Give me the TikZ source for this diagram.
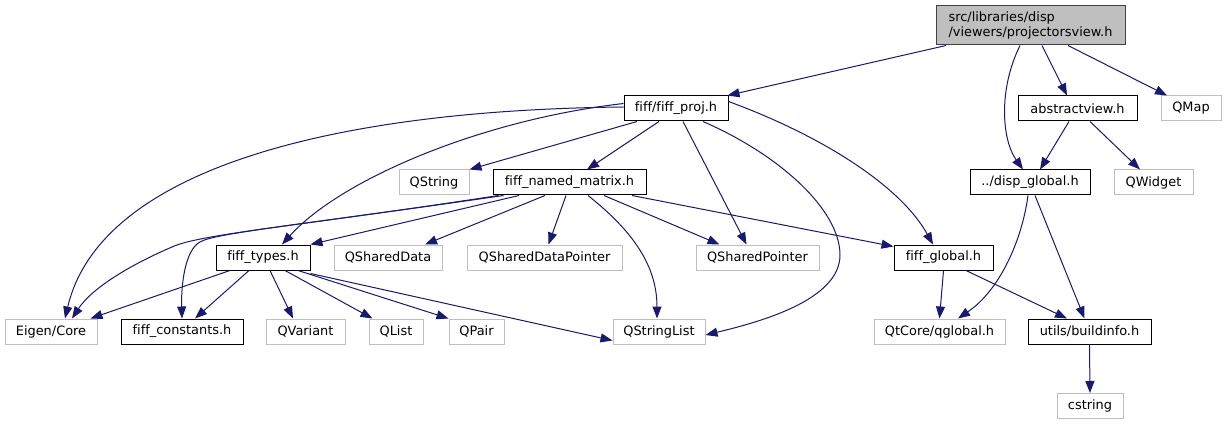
\documentclass[tikz,border=0pt]{standalone}
\usepackage{fontspec}
\setmainfont{DejaVu Sans}[Ligatures={NoCommon}]
\usetikzlibrary{arrows.meta}
\definecolor{edgec}{HTML}{191970}
\definecolor{grayb}{HTML}{BFBFBF}
\definecolor{mainb}{HTML}{404040}
\begin{document}
\begin{tikzpicture}[x=1pt,y=-1pt,
  base/.style={rectangle, inner sep=0pt, minimum height=25pt, font=\fontsize{12.9}{15}\selectfont, line width=1pt},
  doc/.style={base, draw=black, fill=white},
  ext/.style={base, draw=grayb, fill=white},
  edge/.style={draw=edgec, line width=1pt, -{Triangle[length=12pt,width=9pt]}, fill=none}
]
\useasboundingbox[fill=white] (0,0) rectangle (1227,425);

% nodes
\node[base, draw=mainb, fill=grayb, minimum width=189pt, minimum height=39pt, align=left] (main) at (1030.5,25.5) {src/libraries/disp\\/viewers/projectorsview.h};
\node[doc, minimum width=104pt] (fp) at (676,108.5) {fiff/fiff\_proj.h};
\node[doc, minimum width=119pt] (av) at (1077.5,108.5) {abstractview.h};
\node[ext, minimum width=60pt] (qmap) at (1191,108.5) {QMap};
\node[ext, minimum width=70pt] (qs) at (434,182.5) {QString};
\node[doc, minimum width=153pt] (nm) at (569.5,182.5) {fiff\_named\_matrix.h};
\node[doc, minimum width=120pt] (dg) at (1030,182.5) {../disp\_global.h};
\node[ext, minimum width=79pt] (qw) at (1153.5,182.5) {QWidget};
\node[doc, minimum width=94pt] (ft) at (263,257.5) {fiff\_types.h};
\node[ext, minimum width=108pt] (qsd) at (388,257.5) {QSharedData};
\node[ext, minimum width=155pt] (qsdp) at (544.5,257.5) {QSharedDataPointer};
\node[ext, minimum width=123pt] (qsp) at (757.5,257.5) {QSharedPointer};
\node[doc, minimum width=99pt] (fg) at (943.5,257.5) {fiff\_global.h};
\node[ext, minimum width=92pt] (ec) at (51,331.5) {Eigen/Core};
\node[doc, minimum width=122pt] (fc) at (182,331.5) {fiff\_constants.h};
\node[ext, minimum width=79pt] (qv) at (305.5,331.5) {QVariant};
\node[ext, minimum width=54pt] (ql) at (396,331.5) {QList};
\node[ext, minimum width=55pt] (qp) at (476.5,331.5) {QPair};
\node[ext, minimum width=92pt] (qsl) at (659,331.5) {QStringList};
\node[ext, minimum width=131pt] (qg) at (939.5,331.5) {QtCore/qglobal.h};
\node[doc, minimum width=123pt] (bi) at (1089.5,331.5) {utils/buildinfo.h};
\node[ext, minimum width=66pt] (cs) at (1090,406) {cstring};

% edges from main
\draw[edge] ([xshift=-84.5]main.south) -- ([xshift=-1]fp.north east);
\draw[edge] ([xshift=-10.5]main.south) .. controls (998,90) and (1002,140) .. ([xshift=-7]dg.north);
\draw[edge] ([xshift=11.5]main.south) -- ([xshift=-10.5]av.north);
\draw[edge] ([xshift=37.5]main.south) -- ([xshift=-24]qmap.north);

% abstractview
\draw[edge] ([xshift=-8.5]av.south) -- ([xshift=10]dg.north);
\draw[edge] ([xshift=12.5]av.south) -- ([xshift=-13.5]qw.north);

% disp_global
\draw[edge] ([xshift=-2]dg.south) .. controls (1022,240) and (1000,290) .. ([xshift=18.5]qg.north);
\draw[edge] ([xshift=5]dg.south) -- ([xshift=-5]bi.north);

% fiff_global
\draw[edge] (fg.south) -- (qg.north);
\draw[edge] ([xshift=22.5]fg.south) -- ([xshift=-22.5]bi.north);

% buildinfo
\draw[edge] (bi.south) -- (cs.north);

% fiff_proj
\draw[edge] ([yshift=1.5]fp.west) .. controls (330,110) and (100,170) .. ([xshift=14]ec.north);
\draw[edge] ([yshift=5]fp.west) .. controls (480,120) and (340,180) .. ([xshift=19]ft.north);
\draw[edge] ([xshift=-39]fp.south) -- (qs.north east);
\draw[edge] ([xshift=-17]fp.south) -- ([xshift=17.5]nm.north);
\draw[edge] ([xshift=7]fp.south) -- ([xshift=-11]qsp.north);
\draw[edge] ([xshift=27]fp.south) .. controls (780,155) and (840,210) .. (840,255) .. controls (840,300) and (760,322) .. ([yshift=-3.5]qsl.east);
\draw[edge] ([yshift=7]fp.east) .. controls (820,135) and (900,185) .. ([xshift=-10.5]fg.north);

% fiff_named_matrix
\draw[edge] ([xshift=-71]nm.south) .. controls (300,226) and (200,234) .. (172,247) .. controls (130,265) and (92,288) .. ([xshift=21]ec.north);
\draw[edge] ([xshift=-66]nm.south) .. controls (300,225) and (215,233) .. (200,242) .. controls (185,250) and (181,285) .. (fc.north);
\draw[edge] ([xshift=-50.5]nm.south) -- (ft.north east);
\draw[edge] ([xshift=-24.5]nm.south) -- ([xshift=37]qsd.north);
\draw[edge] ([xshift=-3.5]nm.south) -- ([xshift=4]qsdp.north);
\draw[edge] ([xshift=18.5]nm.south) .. controls (625,225) and (657,260) .. ([xshift=-2]qsl.north);
\draw[edge] ([xshift=34.5]nm.south) -- ([xshift=-38]qsp.north);
\draw[edge] ([xshift=62.5]nm.south) -- ([yshift=-2]fg.north west);

% fiff_types
\draw[edge] ([xshift=-33]ft.south) -- ([xshift=-7]ec.north east);
\draw[edge] ([xshift=-14]ft.south) -- ([xshift=13]fc.north);
\draw[edge] ([xshift=7]ft.south) -- ([xshift=-12.5]qv.north);
\draw[edge] ([xshift=22]ft.south) -- ([xshift=4]ql.north west);
\draw[edge] ([xshift=35]ft.south) -- (qp.north west);
\draw[edge] ([yshift=-3]ft.south east) -- ([yshift=-9]qsl.west);
\end{tikzpicture}
\end{document}
